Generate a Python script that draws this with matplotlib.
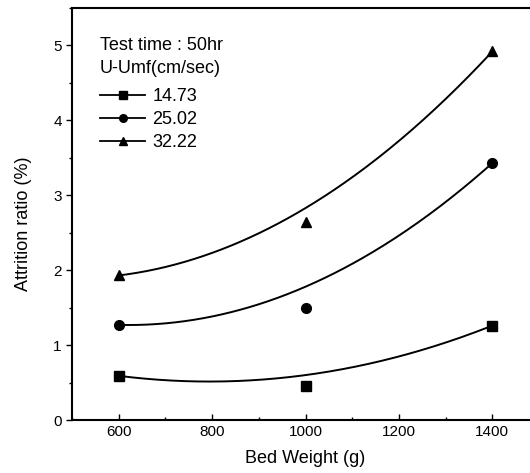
import matplotlib.pyplot as plt
import numpy as np
from matplotlib.lines import Line2D
from matplotlib.ticker import MultipleLocator

plt.rcParams["font.family"] = ["Liberation Sans", "DejaVu Sans"]

bed_weight = [600, 1000, 1400]
velocities = ["14.73", "25.02", "32.22"]
markers = ["s", "o", "^"]

# measured attrition ratio (%)
ratio_1473 = [0.59, 0.45, 1.26]
ratio_2502 = [1.27, 1.50, 3.43]
ratio_3222 = [1.93, 2.64, 4.92]

# fitted trend values at the same bed weights
fit_1473 = [0.59, 0.60, 1.26]
fit_2502 = [1.27, 1.78, 3.43]
fit_3222 = [1.93, 2.83, 4.92]

measured = [ratio_1473, ratio_2502, ratio_3222]
fitted = [fit_1473, fit_2502, fit_3222]

fig = plt.figure(figsize=(5.30, 4.73), dpi=100)
ax = fig.add_axes([0.136, 0.112, 0.881, 0.871])

xs = np.linspace(bed_weight[0], bed_weight[-1], 200)
for vals, fit, mk in zip(measured, fitted, markers):
    coef = np.polyfit(bed_weight, fit, 2)
    ax.plot(xs, np.polyval(coef, xs), color="black", lw=1.4)
    ax.plot(bed_weight, vals, linestyle="none", marker=mk, color="black", ms=7)

ax.set_xlim(500, 1500)
ax.set_ylim(0, 5.5)
ax.xaxis.set_major_locator(MultipleLocator(200))
ax.xaxis.set_minor_locator(MultipleLocator(100))
ax.yaxis.set_major_locator(MultipleLocator(1))
ax.yaxis.set_minor_locator(MultipleLocator(0.5))
ax.tick_params(axis="x", which="both", direction="in")
ax.tick_params(axis="y", which="both", direction="out")
ax.tick_params(which="major", length=4, width=1, labelsize=11)
ax.tick_params(which="minor", length=2, width=1)
for sp in ax.spines.values():
    sp.set_linewidth(1.5)

ax.set_xlabel("Bed Weight (g)", fontsize=13, labelpad=8)
ax.set_ylabel("Attrition ratio (%)", fontsize=13)
ax.yaxis.set_label_coords(-0.085, 0.476)

handles = [Line2D([], [], color="black", lw=1.3, marker=mk, ms=5.5) for mk in markers]
leg = ax.legend(handles, velocities, title="Test time : 50hr\nU-Umf(cm/sec)",
                loc="upper left", bbox_to_anchor=(0.06, 0.93), frameon=False,
                fontsize=13, title_fontsize=13, alignment="left",
                handlelength=2.5, handletextpad=0.4, labelspacing=0.33,
                borderaxespad=0, borderpad=0)
leg.get_title().set_linespacing(1.5)
leg._legend_box.sep = 8

fig.savefig("out.png", dpi=100)
